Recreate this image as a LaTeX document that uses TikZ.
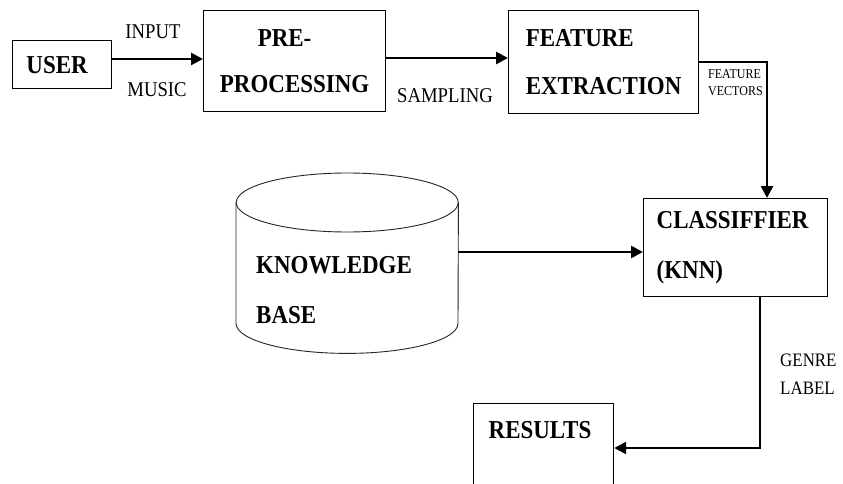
\documentclass[tikz,border=0pt]{standalone}
\usepackage{fontspec}
\setmainfont{Liberation Serif}[FakeStretch=0.89]
\usetikzlibrary{arrows.meta}

\tikzset{
  box/.style={draw=black, line width=1.2pt, inner sep=0pt, anchor=north west},
  arr/.style={line width=2.6pt, line join=miter, -{Triangle[length=12pt,width=12pt]}},
  bold/.style={font=\bfseries\fontsize{25.8}{#1}\selectfont},
  bold/.default=30,
  lbl/.style={font=\fontsize{21}{25}\selectfont, inner sep=0pt},
}

\begin{document}
\begin{tikzpicture}[x=1pt, y=-1pt]
  \clip (0,0) rectangle (843,484);
  \fill[white] (0,0) rectangle (843,484);

  % process boxes
  \node[box, bold, minimum width=99pt, minimum height=48pt] (user) at (12,40) {\hspace*{-10pt}\raisebox{-3pt}{USER}};
  \node[box, bold=46, align=center, minimum width=182pt, minimum height=101pt] (pre) at (203,10) {\hspace*{-20pt}PRE-\\PROCESSING};
  \node[box, bold=47.5, align=left, minimum width=190pt, minimum height=103pt] (fe) at (508,10) {FEATURE\\EXTRACTION};
  \node[box, bold=50, align=left, minimum width=184pt, minimum height=98pt] (cls) at (643,198) {\hspace*{-6pt}CLASSIFFIER\\\hspace*{-6pt}(KNN)};
  \node[box, minimum width=140pt, minimum height=120pt] (res) at (473,403) {};
  \node[bold, inner sep=0pt] (restext) at (540,430) {RESULTS};

  % knowledge base cylinder
  \node[inner sep=0pt, anchor=north west, minimum width=222pt, minimum height=180pt] (kb) at (236,173) {};
  \draw[line width=0.9pt, draw=black!85]
    ([yshift=-29.5pt]kb.north west) -- ([yshift=30pt]kb.south west)
    arc[start angle=180, end angle=360, x radius=111pt, y radius=30pt]
    -- ([yshift=-29.5pt]kb.north east);
  \draw[line width=0.9pt, draw=black!85] ([yshift=-29.5pt]kb.north) ellipse [x radius=111pt, y radius=29.5pt];
  \node[bold=49.5, align=left, inner sep=0pt, anchor=west] (kbtext) at (256,290) {KNOWLEDGE\\BASE};

  % connectors
  \draw[arr] (user.east |- 0,59) -- (pre.west |- 0,59);
  \draw[arr] (pre.east |- 0,58) -- (fe.west |- 0,58);
  \coordinate (fvturn) at (767,62);
  \draw[arr] (fe.east |- fvturn) -- (fvturn) -- (fvturn |- cls.north);
  \draw[arr] (kb.east |- 0,252) -- (cls.west |- 0,252);
  \coordinate (glturn) at (760,448);
  \draw[arr] (cls.south -| glturn) -- (glturn) -- (res.east |- glturn);

  % connector labels
  \node[lbl] (input) at (153,32) {INPUT};
  \node[lbl] (music) at (157,90) {MUSIC};
  \node[lbl] (sampling) at (445,96) {SAMPLING};
  \node[font=\fontsize{13.5}{17}\selectfont, inner sep=0pt, align=left, anchor=west] (fvec) at (708,83) {FEATURE\\VECTORS};
  \node[font=\fontsize{19}{28}\selectfont, inner sep=0pt, align=left, anchor=west] (genre) at (780,374) {GENRE\\LABEL};
\end{tikzpicture}
\end{document}
